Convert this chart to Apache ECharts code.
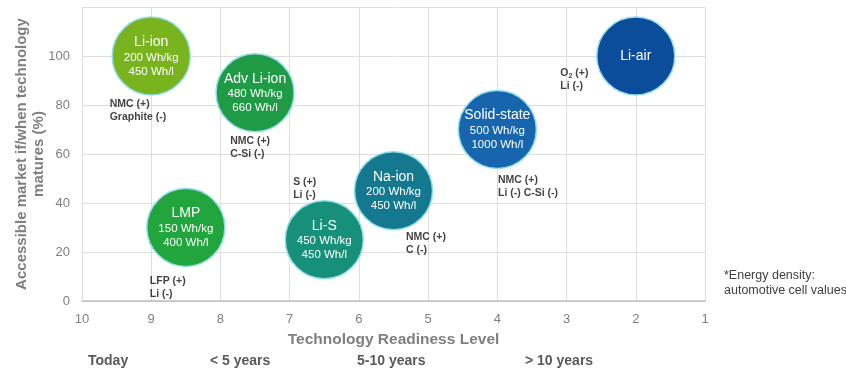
<!DOCTYPE html>
<html>
<head>
<meta charset="utf-8">
<script src="https://cdn.jsdelivr.net/npm/echarts@6/dist/echarts.min.js"></script>
<style>html,body{margin:0;padding:0;background:#fff}#c{width:846px;height:373px}</style>
</head>
<body>
<div id="c"></div>
<script>
// Bubbles: technology, TRL (x), accessible market % (y), energy densities
const techNames = ['Li-ion', 'Adv Li-ion', 'LMP', 'Li-S', 'Na-ion', 'Solid-state', 'Li-air'];
const techTRL = [9, 7.5, 8.5, 6.5, 5.5, 4, 2];
const techMarket = [100, 85, 30, 25, 45, 70, 100];
const techWhKg = ['200 Wh/kg', '480 Wh/kg', '150 Wh/kg', '450 Wh/kg', '200 Wh/kg', '500 Wh/kg', ''];
const techWhL = ['450 Wh/l', '660 Wh/l', '400 Wh/l', '450 Wh/l', '450 Wh/l', '1000 Wh/l', ''];
const techColors = ['#79b41f', '#1f9b46', '#22a53c', '#17907a', '#14798f', '#1665ad', '#0b4c9b'];

// Chemistry annotations (text anchored at top-left)
const chemText = ['NMC (+)\nGraphite (-)', 'NMC (+)\nC-Si (-)', 'LFP (+)\nLi (-)', 'S (+)\nLi (-)', 'NMC (+)\nC (-)', 'NMC (+)\nLi (-) C-Si (-)', 'O{sub|2} (+)\nLi (-)'];
const chemX = [9.6, 7.86, 9.02, 6.95, 5.32, 3.99, 3.09];
const chemY = [83, 68, 10.6, 51, 28.6, 51.8, 95.5];

// Axis ticks
const xTicks = [10, 9, 8, 7, 6, 5, 4, 3, 2, 1];
const yTicks = [0, 20, 40, 60, 80, 100];
const timeline = ['Today', '< 5 years', '5-10 years', '> 10 years'];
const footnote = '*Energy density:\nautomotive cell values';

const chart = echarts.init(document.getElementById('c'));
const bubbleData = techNames.map((n, i) => ({
  value: [techTRL[i], techMarket[i]],
  name: n,
  itemStyle: { color: techColors[i] }
}));
const chemData = chemText.map((t, i) => ({ value: [chemX[i], chemY[i]], name: t }));
const tlLeft = [88, 210, 357, 525];

chart.setOption({
  animation: false,
  backgroundColor: '#fff',
  grid: { left: 82, right: 141, top: 7, bottom: 72, containLabel: false, outerBoundsMode: 'none' },
  xAxis: {
    type: 'value', min: 1, max: 10, interval: 1, inverse: true,
    name: 'Technology Readiness Level', nameLocation: 'middle', nameGap: 31, nameMoveOverlap: false,
    nameTextStyle: { color: '#7f7f7f', fontSize: 15.5, fontWeight: 'bold', fontFamily: 'Liberation Sans' },
    axisLine: { show: true, lineStyle: { color: '#bfbfbf', width: 1.5 } },
    axisTick: { show: false },
    axisLabel: { color: '#7f7f7f', fontSize: 13, margin: 12, fontFamily: 'Liberation Sans Narrow, Liberation Sans',
      formatter: v => xTicks.includes(v) ? String(v) : '' },
    splitLine: { show: true, lineStyle: { color: '#dedede' } }
  },
  yAxis: {
    type: 'value', min: 0, max: 120, interval: 20,
    name: 'Accessible market if/when technology\nmatures (%)', nameLocation: 'middle', nameGap: 35, nameMoveOverlap: false,
    nameTextStyle: { color: '#7f7f7f', fontSize: 15, fontWeight: 'bold', lineHeight: 17, fontFamily: 'Liberation Sans' },
    axisLine: { show: false },
    axisTick: { show: false },
    axisLabel: { color: '#7f7f7f', fontSize: 13, margin: 12, fontFamily: 'Liberation Sans Narrow, Liberation Sans',
      formatter: v => yTicks.includes(v) ? String(v) : '' },
    splitLine: { show: true, lineStyle: { color: '#dedede' } }
  },
  series: [
    {
      type: 'scatter', data: bubbleData, symbolSize: 78, z: 3,
      itemStyle: { borderColor: '#8fdcea', borderWidth: 1.5, opacity: 1 },
      label: {
        show: true, position: 'inside',
        formatter: p => {
          const i = p.dataIndex;
          return techWhKg[i] ? '{n|' + p.name + '}\n{v|' + techWhKg[i] + '}\n{v|' + techWhL[i] + '}' : '{n|' + p.name + '}';
        },
        rich: {
          n: { color: '#fff', fontSize: 14, lineHeight: 17, fontFamily: 'Liberation Sans' },
          v: { color: '#fff', fontSize: 11.5, lineHeight: 14, fontFamily: 'Liberation Sans' }
        }
      }
    },
    {
      type: 'scatter', data: chemData, symbolSize: 0, z: 4, silent: true,
      label: {
        show: true, position: [0, 0], align: 'left', verticalAlign: 'top',
        formatter: p => p.name,
        color: '#111', fontSize: 10.5, fontWeight: 'bold', lineHeight: 13, fontFamily: 'Liberation Sans',
        rich: { sub: { fontSize: 7, fontWeight: 'bold', color: '#111', verticalAlign: 'bottom', padding: [4, 0, 0, 0] } }
      }
    }
  ],
  graphic: [
    ...timeline.map((t, i) => ({
      type: 'text', left: tlLeft[i], top: 354,
      style: { text: t, fill: '#595959', fontSize: 14, fontWeight: 'bold', fontFamily: 'Liberation Sans' }
    })),
    {
      type: 'text', left: 724, top: 268,
      style: { text: footnote, fill: '#404040', fontSize: 12.5, lineHeight: 15, fontFamily: 'Liberation Sans' }
    }
  ]
});
</script>
</body>
</html>
